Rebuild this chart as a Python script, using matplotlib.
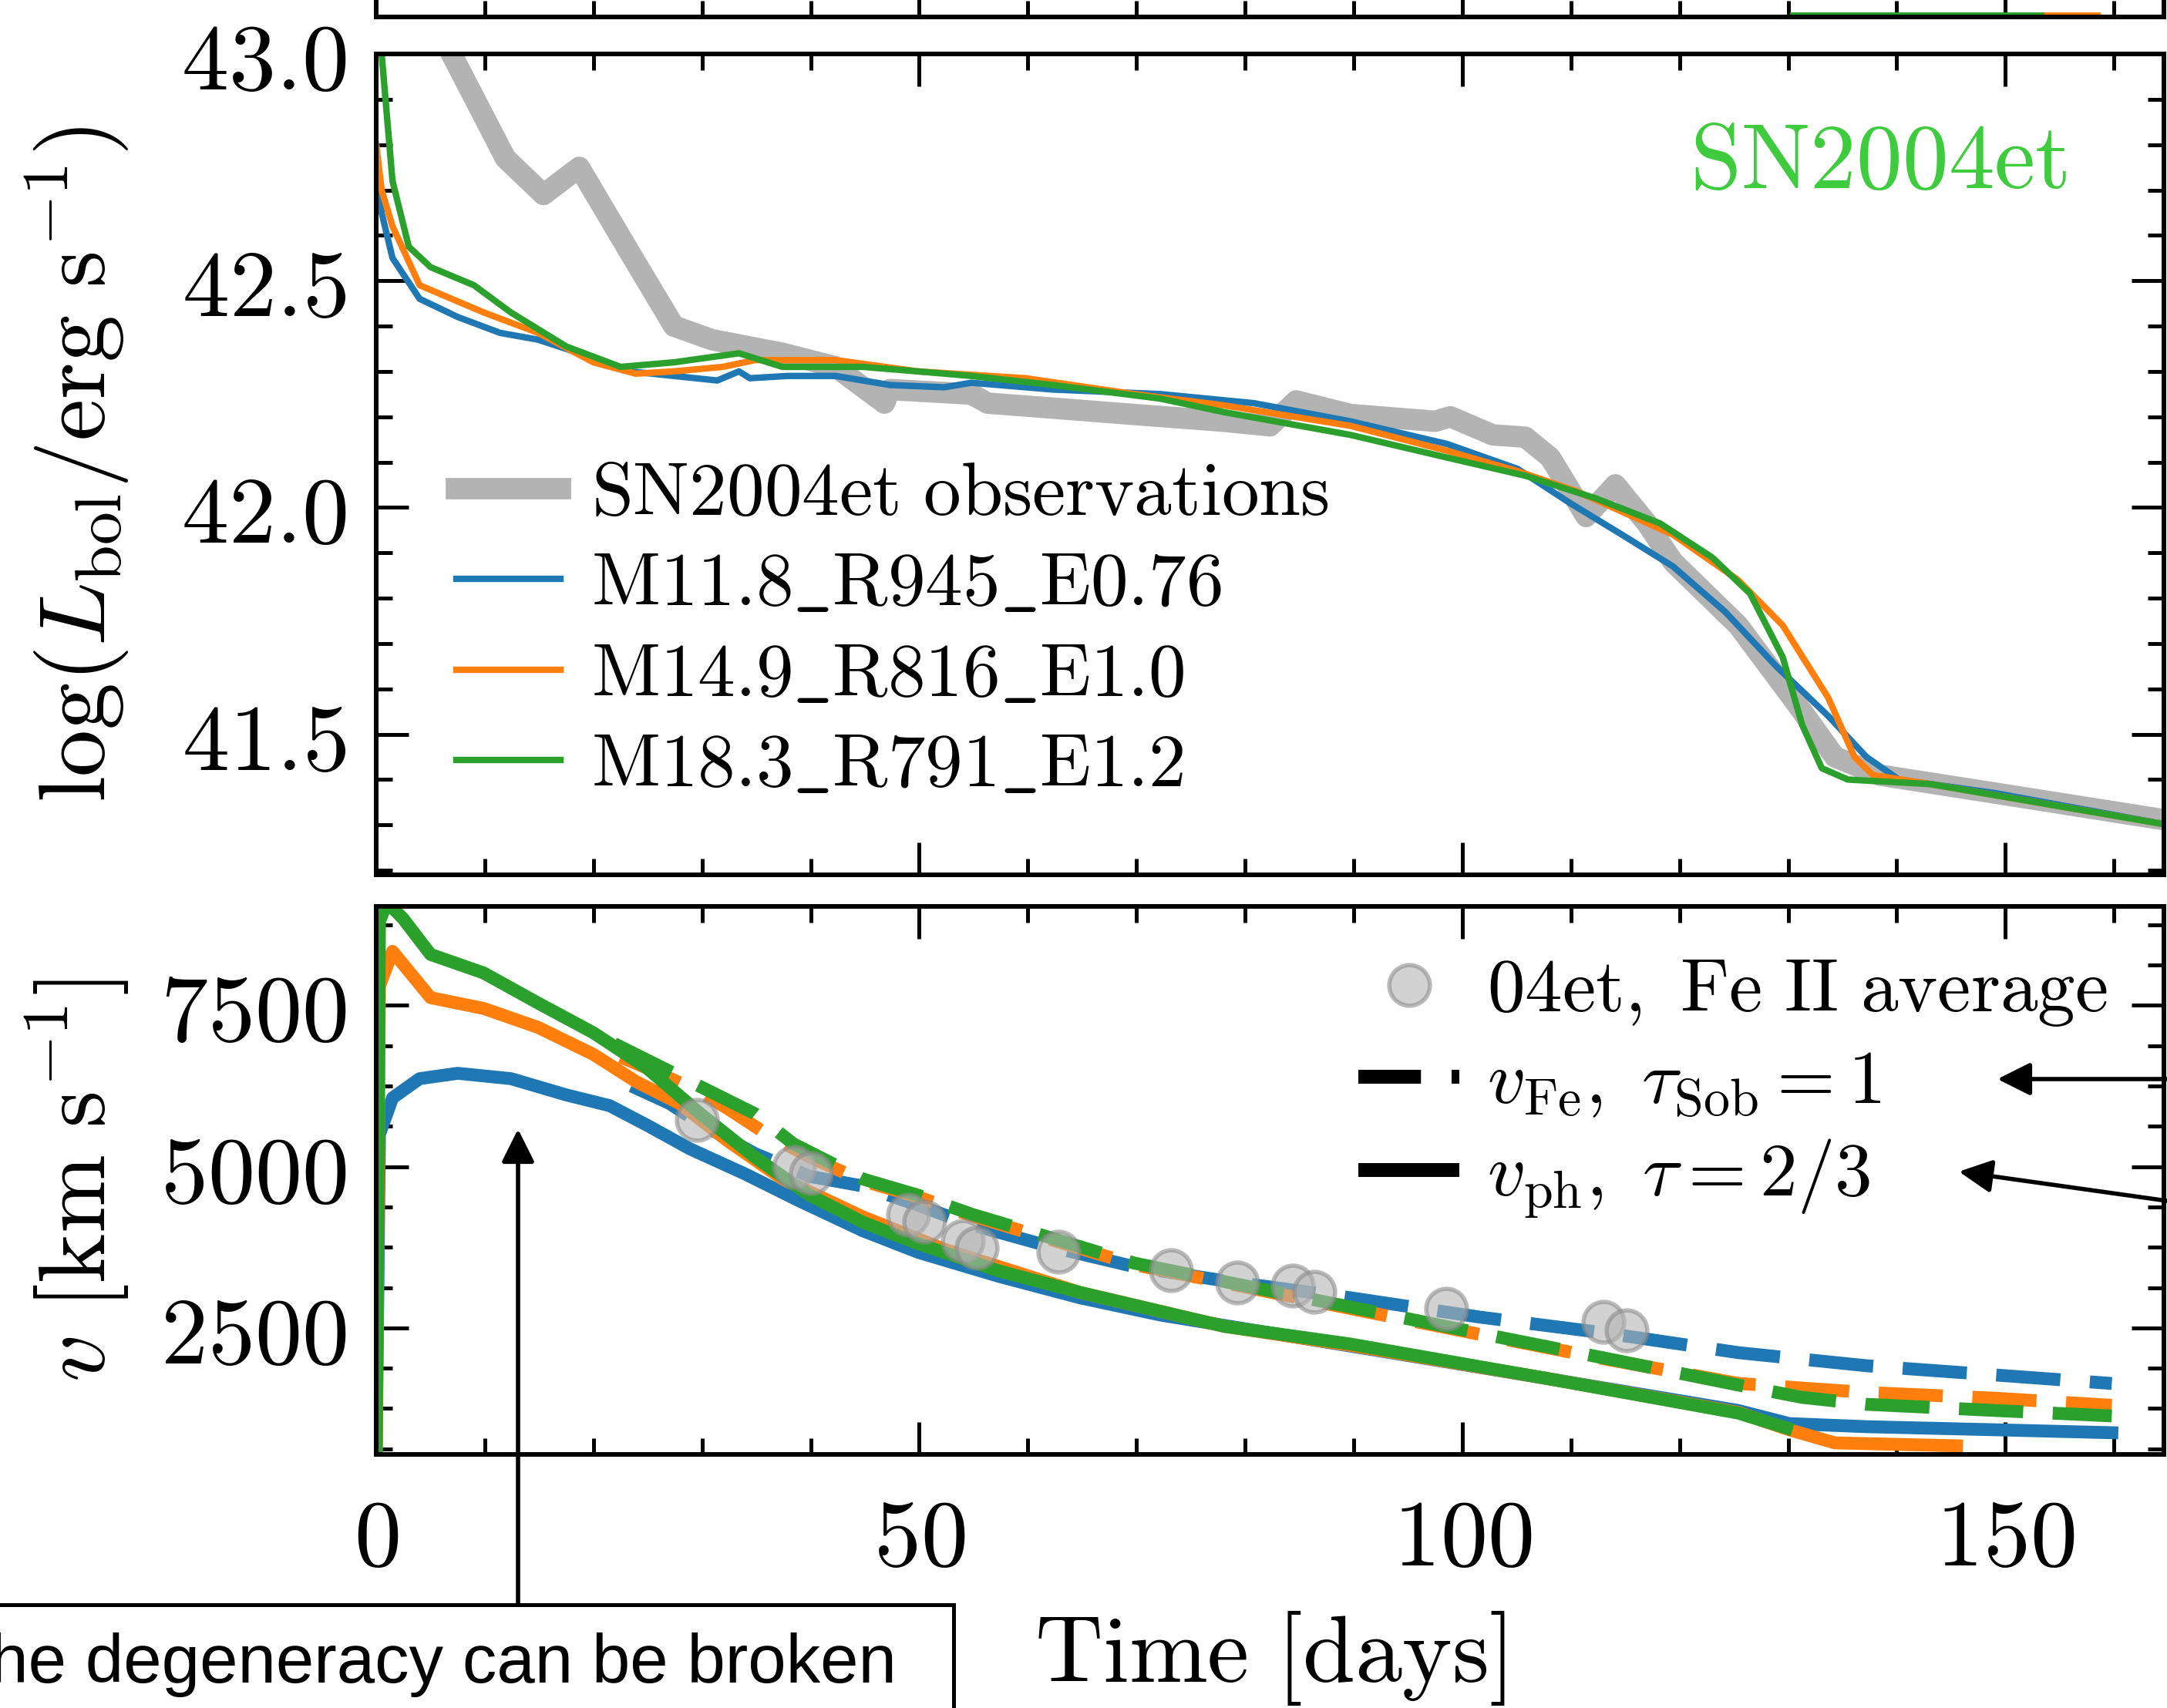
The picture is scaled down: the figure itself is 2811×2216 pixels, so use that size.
import numpy as np
import matplotlib
matplotlib.use('Agg')
import matplotlib.pyplot as plt
from matplotlib.ticker import MultipleLocator, FixedLocator, FuncFormatter
from matplotlib.patches import Rectangle

plt.rcParams['mathtext.fontset'] = 'cm'
plt.rcParams['axes.linewidth'] = 4.3

# SN2004et bolometric light curve (gray band)
obs_t = [4.0, 6.5, 11.9, 15.4, 18.7, 23.4, 27.4, 30.9, 37.4, 42.3, 46.8, 47.3, 54.8, 56.3,
         61.8, 69.8, 78.1, 82.3, 84.7, 89.7, 97.5, 98.9, 102.8, 105.8, 108.1, 111.4, 114.1,
         117.0, 119.4, 125.4, 130.7, 134.3, 138.4, 149.1, 165.0]
obs_L = [43.2, 43.02, 42.77, 42.69, 42.75, 42.56, 42.40, 42.37, 42.34, 42.31, 42.23, 42.26,
         42.25, 42.23, 42.22, 42.205, 42.19, 42.18, 42.235, 42.205, 42.19, 42.20, 42.16, 42.155,
         42.11, 41.98, 42.05, 41.965, 41.88, 41.74, 41.57, 41.45, 41.41, 41.37, 41.31]

# model light curves
m1_t = [0, 0.5, 1.5, 4.0, 7.5, 11.4, 14.9, 20.0, 23.4, 27.4, 31.4, 33.4, 34.4, 37.9, 42.3,
        47.3, 52.3, 54.8, 62.3, 72.2, 80.8, 89.7, 98.6, 105.1, 109.9, 114.7, 119.4, 124.2,
        128.9, 133.7, 137.2, 140.2, 149.1, 165.0]
m1_L = [42.75, 42.65, 42.55, 42.46, 42.42, 42.385, 42.37, 42.33, 42.30, 42.29, 42.28, 42.30,
        42.285, 42.29, 42.29, 42.27, 42.265, 42.275, 42.26, 42.25, 42.23, 42.19, 42.14, 42.085,
        42.01, 41.94, 41.87, 41.77, 41.65, 41.54, 41.45, 41.40, 41.37, 41.30]
m2_t = [0, 0.5, 1.5, 4.0, 9.9, 14.9, 20.0, 23.9, 27.4, 31.9, 34.9, 42.3, 49.9, 59.8, 69.8,
        78.1, 89.7, 98.6, 105.1, 110.5, 119.4, 125.4, 129.5, 133.7, 136.1, 137.8, 143.1, 165.0]
m2_L = [42.8, 42.7, 42.62, 42.49, 42.43, 42.385, 42.32, 42.295, 42.30, 42.31, 42.325, 42.325,
        42.30, 42.285, 42.25, 42.225, 42.18, 42.125, 42.08, 42.036, 41.94, 41.84, 41.74, 41.58,
        41.45, 41.41, 41.39, 41.30]
m3_t = [0, 0.5, 1.5, 3.0, 5.0, 9.0, 12.4, 17.5, 22.5, 27.4, 33.4, 37.4, 44.8, 49.9, 54.8,
        62.3, 72.2, 78.1, 89.7, 98.6, 105.8, 112.3, 118.2, 123.0, 126.5, 129.5, 131.3, 133.1,
        135.5, 143.1, 165.0]
m3_L = [43.1, 43.0, 42.72, 42.575, 42.53, 42.49, 42.43, 42.355, 42.31, 42.32, 42.34, 42.31,
        42.31, 42.30, 42.29, 42.27, 42.24, 42.21, 42.16, 42.11, 42.07, 42.02, 41.965, 41.89,
        41.81, 41.67, 41.52, 41.425, 41.40, 41.39, 41.30]

# Fe II velocities of 04et
fe_t = [29.5, 38.5, 40.0, 49.0, 50.5, 54.0, 55.3, 62.8, 73.2, 79.3, 84.4, 86.4, 98.5, 113.0, 115.1]
fe_v = [5720, 5000, 4900, 4250, 4150, 3850, 3740, 3680, 3390, 3200, 3160, 3060, 2800, 2590, 2460]

# photospheric velocities
m1_pt = [0, 0.3, 1.5, 4.0, 7.5, 12.4, 17.5, 21.5, 24.9, 28.9, 33.9, 38.9, 44.8, 49.9, 57.3,
         64.8, 72.2, 89.7, 107.6, 125.4, 130.1, 137.2, 149.1, 160.4]
m1_pv = [500, 5500, 6065, 6364, 6447, 6364, 6112, 5945, 5646, 5275, 4892, 4474, 4007, 3672,
         3301, 2967, 2700, 2219, 1722, 1220, 1017, 969, 921, 873]
m2_pt = [0, 0.3, 1.5, 5.0, 9.9, 14.9, 20.0, 23.9, 27.9, 32.4, 37.4, 44.8, 52.3, 64.8, 78.1,
         89.7, 107.6, 125.4, 130.1, 134.3, 146.1]
m2_pv = [500, 7800, 8337, 7620, 7452, 7159, 6740, 6320, 5981, 5395, 4809, 4222, 3720, 3050,
         2524, 2230, 1722, 1190, 921, 718, 670]
m3_pt = [0, 0.3, 1.0, 2.5, 5.0, 9.9, 14.9, 20.0, 24.9, 29.9, 34.9, 39.9, 44.8, 49.9, 57.3,
         64.8, 78.1, 89.7, 107.6, 125.4, 130.4]
m3_pv = [500, 8800, 9100, 8840, 8290, 8002, 7536, 7075, 6531, 5813, 5143, 4557, 4139, 3804,
         3385, 3050, 2524, 2250, 1722, 1180, 921]

# Fe velocities (tau_Sob = 1)
m1_ft = [23.5, 27.0, 30.0, 34.9, 39.9, 44.8, 49.9, 54.8, 62.3, 69.8, 78.1, 89.7, 101.6,
         113.4, 125.4, 137.2, 149.1, 159.8]
m1_fv = [6250, 5980, 5650, 5200, 4850, 4700, 4400, 4100, 3750, 3450, 3230, 2967, 2668,
         2416, 2117, 1914, 1770, 1639]
m2_ft = [22.5, 26.0, 29.9, 32.4, 36.0, 39.9, 44.8, 49.9, 54.8, 62.3, 69.8, 78.1, 89.7,
         101.6, 113.4, 125.4, 131.3, 137.2, 149.1, 159.8]
m2_fv = [6700, 6450, 6150, 5897, 5500, 5150, 4780, 4530, 4240, 3860, 3480, 3200, 2800,
         2400, 2010, 1640, 1567, 1500, 1410, 1300]
m3_ft = [21.9, 25.9, 29.9, 34.9, 38.4, 39.9, 44.8, 49.9, 54.8, 62.3, 69.8, 78.1, 89.7,
         101.6, 113.4, 125.4, 131.3, 137.2, 149.1, 159.8]
m3_fv = [6908, 6572, 6236, 5818, 5355, 5227, 4809, 4557, 4264, 3887, 3505, 3218, 2823,
         2416, 2022, 1615, 1423, 1316, 1220, 1136]

# panel above (cropped off the page)
up_t = [130.4, 153.8]
up_v = [0.05, 0.05]
up2_t = [153.8, 158.5]

models = ['M11.8\\_R945\\_E0.76', 'M14.9\\_R816\\_E1.0', 'M18.3\\_R791\\_E1.2']
colors = ['#1f77b4', '#ff7f0e', '#2ca02c']

W, H = 2811, 2216
fig = plt.figure(figsize=(W / 100, H / 100), dpi=100)

def fx(px):
    return px / W

def fy(py):
    return 1 - py / H

L, R = 488, 2807
ax0 = fig.add_axes([fx(L), fy(22), fx(R - L), 0.3])
ax1 = fig.add_axes([fx(L), fy(1135), fx(R - L), (1135 - 70) / H])
ax2 = fig.add_axes([fx(L), fy(1886.5), fx(R - L), (1886.5 - 1175.5) / H])

mfmt = FuncFormatter(lambda v, p: r'$%g$' % v)

for ax in (ax0, ax1, ax2):
    ax.set_xlim(0, 164.6)
    ax.xaxis.set_major_locator(MultipleLocator(50))
    ax.xaxis.set_minor_locator(MultipleLocator(10))
    ax.tick_params(which='both', direction='in', top=True, right=True, width=3.6)
    ax.tick_params(which='major', length=30)
    ax.tick_params(which='minor', length=15)
    ax.tick_params(axis='y', labelsize=88, pad=28)
    ax.tick_params(axis='x', labelsize=88, pad=38)

# cropped panel above
ax0.plot(up_t, up_v, color=colors[2], lw=5)
ax0.plot(up2_t, up_v, color=colors[1], lw=5)
ax0.set_ylim(0, 10)
ax0.set_yticks([])
ax0.tick_params(labelbottom=False)

# luminosity panel
ax1.plot(obs_t, obs_L, color='#b3b3b3', lw=20, solid_joinstyle='round',
         label=r'$\mathrm{SN2004et\ observations}$')
for t, y, c, m in zip([m1_t, m2_t, m3_t], [m1_L, m2_L, m3_L], colors, models):
    ax1.plot(t, y, color=c, lw=6, solid_joinstyle='round', label=r'$\mathrm{%s}$' % m)
ax1.set_ylim(41.19, 43.0)
ax1.yaxis.set_major_locator(FixedLocator([41.5, 42.0, 42.5, 43.0]))
ax1.yaxis.set_minor_locator(MultipleLocator(0.1))
ax1.yaxis.set_major_formatter(FuncFormatter(lambda v, p: r'$%.1f$' % v))
ax1.tick_params(labelbottom=False)
ax1.set_ylabel(r'$\log(L_{\rm bol}/{\rm erg\ s^{-1}})$', fontsize=88)
ax1.yaxis.set_label_coords(-0.137, 0.5)
ax1.text(155.7, 42.76, r'$\mathrm{SN2004et}$', color='#3ecb3e', fontsize=86,
         ha='right', va='center')
ax1.legend(loc='upper left', bbox_to_anchor=(0.045, 0.507), frameon=False, fontsize=70,
           handlelength=1.38, handletextpad=0.42, borderpad=0, borderaxespad=0,
           labelspacing=0.25)

# velocity panel
for k in range(3):
    ax2.plot([m1_pt, m2_pt, m3_pt][k], [m1_pv, m2_pv, m3_pv][k], color=colors[k], lw=12,
             solid_capstyle='butt', solid_joinstyle='round')
    ax2.plot([m1_ft, m2_ft, m3_ft][k], [m1_fv, m2_fv, m3_fv][k], color=colors[k], lw=12,
             dashes=(5.0, 2.3), dash_capstyle='butt')
ax2.plot(fe_t, fe_v, 'o', ms=38, mfc='#b5b5b5', mec='#8c8c8c', mew=4, alpha=0.6, zorder=5)
ax2.set_ylim(545, 9040)
ax2.yaxis.set_major_locator(FixedLocator([2500, 5000, 7500]))
ax2.yaxis.set_minor_locator(MultipleLocator(625))
ax2.yaxis.set_major_formatter(mfmt)
ax2.xaxis.set_major_formatter(mfmt)
ax2.set_ylabel(r'$v\ [{\rm km\ s^{-1}}]$', fontsize=88)
ax2.yaxis.set_label_coords(-0.137, 0.5)
ax2.set_xlabel(r'$\mathrm{Time\ [days]}$', fontsize=88)
ax2.xaxis.set_label_coords(0.5, -0.284)

h_obs, = ax2.plot([], [], 'o', ms=38, mfc='#b5b5b5', mec='#8c8c8c', mew=4, alpha=0.6)
h_fe, = ax2.plot([], [], color='k', lw=13, dashes=(4.5, 2.2), dash_capstyle='butt')
h_ph, = ax2.plot([], [], color='k', lw=13, solid_capstyle='butt')
ax2.legend([h_obs, h_fe, h_ph],
           [r'$\mathrm{04et,\ Fe\ II\ average}$', r'$v_{\rm Fe},\ \tau_{\rm Sob}=1$',
            r'$v_{\rm ph},\ \tau=2/3$'],
           loc='upper right', bbox_to_anchor=(0.9685, 0.911), frameon=False, fontsize=70,
           handlelength=1.35, handletextpad=0.37, borderpad=0, borderaxespad=0,
           labelspacing=0.25)

# annotations on top of the figure
fig.add_artist(Rectangle((fx(-20), fy(2300)), fx(1237 + 20), (2300 - 2082) / H,
                         transform=fig.transFigure, fill=False, lw=3.6, ec='k'))
fig.text(fx(1163), fy(2183), 'The degeneracy can be broken', fontsize=64,
         family='Liberation Sans', ha='right', va='baseline')

arrow = dict(arrowstyle='-|>,head_length=0.5,head_width=0.25', color='k', lw=4,
             mutation_scale=52, shrinkA=0, shrinkB=0)
for tail, tip in [((672, 2082), (672, 1465)), ((2811, 1400), (2591, 1400)),
                  ((2811, 1558), (2541, 1520))]:
    ax2.annotate('', xy=(tip[0], H - tip[1]), xycoords='figure pixels',
                 xytext=(tail[0], H - tail[1]), textcoords='figure pixels',
                 arrowprops=arrow, annotation_clip=False)

fig.savefig('out.png', dpi=100)
